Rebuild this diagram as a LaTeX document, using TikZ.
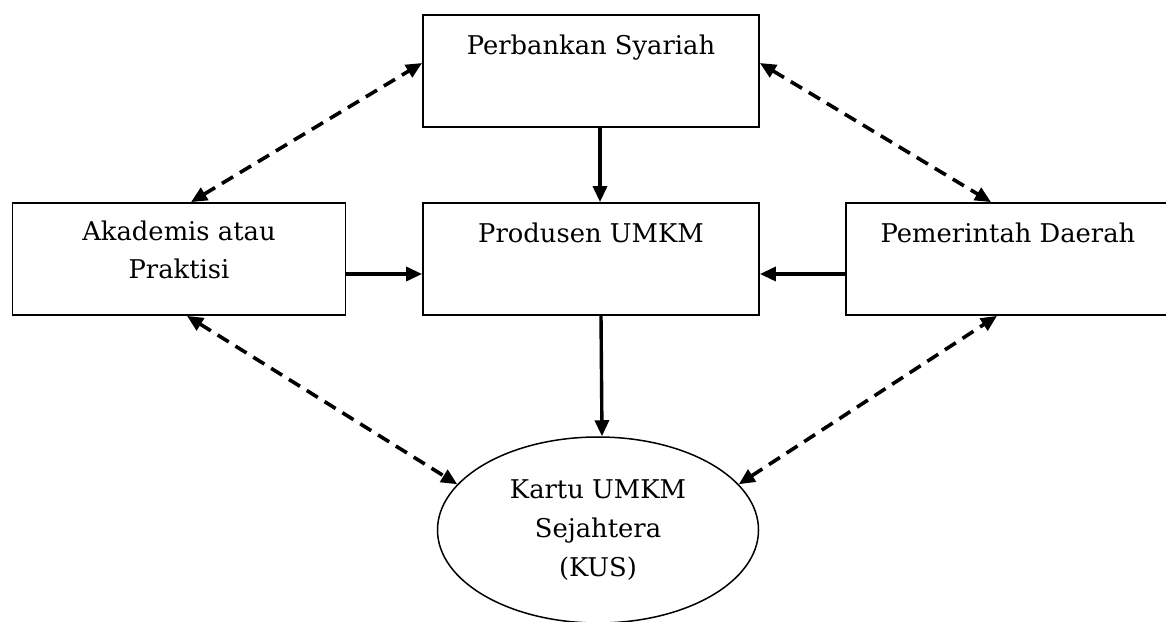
\documentclass[tikz,border=0pt]{standalone}
\usepackage{fontspec}
\setmainfont{DejaVu Serif}
\usetikzlibrary{arrows.meta,shapes.geometric}
\tikzset{
  kotak/.style={draw,line width=1.8pt,minimum width=336pt,minimum height=112pt,
    inner ysep=0pt,text height=40pt,text depth=72pt,align=center,
    font=\fontsize{25.8}{38}\selectfont},
  bulat/.style={draw,ellipse,line width=1.5pt,minimum width=321pt,minimum height=186pt,
    inner sep=0pt,align=center,font=\fontsize{25.8}{39}\selectfont},
  panah/.style={-{Triangle[length=16pt,width=14pt]},line width=3.4pt},
  putus/.style={{Triangle[length=16pt,width=14pt]}-{Triangle[length=16pt,width=14pt]},
    line width=3.6pt,dash pattern=on 13pt off 8pt}
}
\begin{document}
\begin{tikzpicture}[x=1pt,y=1pt]
  \useasboundingbox (0,0) rectangle (1166,621);
  \node[kotak] (bank) at (591,550) {Perbankan Syariah};
  \node[kotak,minimum width=333pt,text height=76pt,text depth=36pt] (akad) at (179,362) {Akademis atau\\Praktisi};
  \node[kotak] (prod) at (591,362) {Produsen UMKM};
  \node[kotak,minimum width=324pt] (pem) at (1008,362) {Pemerintah Daerah};
  \node[bulat] (kus) at (598,91) {Kartu UMKM\\Sejahtera\\(KUS)};

  \draw[panah] ([xshift=9pt]bank.south) -- ([xshift=9pt]prod.north);
  \draw[panah] ([yshift=-15pt]akad.east) -- ([yshift=-15pt]prod.west);
  \draw[panah] ([yshift=-15pt]pem.west) -- ([yshift=-15pt]prod.east);
  \draw[panah] ([xshift=10pt]prod.south) -- ([xshift=4pt]kus.north);

  \draw[putus] ([xshift=12pt]akad.north) -- ([yshift=8pt]bank.west);
  \draw[putus] ([yshift=8pt]bank.east) -- ([xshift=-17pt]pem.north);
  \draw[putus] ([xshift=8pt]akad.south) -- (kus.162);
  \draw[putus] (kus.18) -- ([xshift=-11pt]pem.south);
\end{tikzpicture}
\end{document}
